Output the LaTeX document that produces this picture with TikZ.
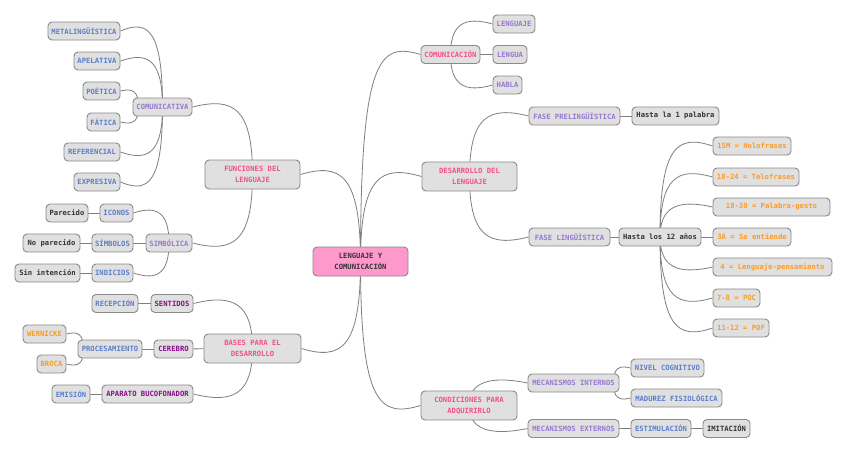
\documentclass[tikz,border=0pt]{standalone}
\usepackage{fontspec}
\newfontfamily\mono{DejaVu Sans Mono}
\usetikzlibrary{backgrounds,calc}
\definecolor{cpink}{HTML}{F2508C}
\definecolor{clav}{HTML}{9678D0}
\definecolor{cblue}{HTML}{5B7ECB}
\definecolor{cdpur}{HTML}{8A0A8A}
\definecolor{corange}{HTML}{FF9A1F}
\definecolor{cdark}{HTML}{333333}
\definecolor{cfill}{HTML}{E0E0E0}
\definecolor{cborder}{HTML}{8A8A8A}
\definecolor{cline}{HTML}{7F7F7F}
\definecolor{croot}{HTML}{FF99CC}
\newcommand\mmcurve[3]{\draw[lk] (#1) .. controls (#1 |- #2) and ($(#2)!0.67!(#1 |- #2)+(0,#3)$) .. (#2);}
\begin{document}
\begin{tikzpicture}[x=1pt,y=-1pt,
 box/.style={draw=cborder, fill=cfill, rounded corners=4pt, line width=0.9pt, minimum height=18pt, inner sep=0pt, font=\mono\bfseries\fontsize{7.2}{11}\selectfont, align=center},
 big/.style={box, minimum height=29pt},
 cP/.style={text=cpink}, cL/.style={text=clav}, cB/.style={text=cblue},
 cD/.style={text=cdpur}, cO/.style={text=corange}, cK/.style={text=cdark},
 lk/.style={draw=cline, line width=0.8pt}]
\useasboundingbox (0,0) rectangle (848,453);
% main
\node[big, fill=croot, cK, minimum width=95] (root) at (360.5,261.5) {LENGUAJE Y\\COMUNICACIÓN};
\node[big, cP, minimum width=95] (fun) at (252.5,174.5) {FUNCIONES DEL\\LENGUAJE};
\node[big, cP, minimum width=97] (bas) at (252.5,348.5) {BASES PARA EL\\DESARROLLO};
\node[box, cP, minimum width=59] (comu) at (450.5,54.5) {COMUNICACIÓN};
\node[big, cP, minimum width=95] (des) at (469.5,176.5) {DESARROLLO DEL\\LENGUAJE};
\node[big, cP, minimum width=96] (cond) at (469,405.5) {CONDICIONES PARA\\ADQUIRIRLO};
% funciones
\node[box, cL, minimum width=59] (comv) at (162.5,107) {COMUNICATIVA};
\node[box, cB, minimum width=72] (meta) at (84,31) {METALINGÜÍSTICA};
\node[box, cB, minimum width=46] (apel) at (97,61) {APELATIVA};
\node[box, cB, minimum width=37] (poe) at (101.5,91) {POÉTICA};
\node[box, cB, minimum width=33] (fat) at (103.5,122) {FÁTICA};
\node[box, cB, minimum width=56] (ref) at (92,152) {REFERENCIAL};
\node[box, cB, minimum width=46] (expr) at (97,182) {EXPRESIVA};
\node[box, cL, minimum width=46] (simb) at (169,243) {SIMBÓLICA};
\node[box, cB, minimum width=33] (icon) at (116.5,213) {ICONOS};
\node[box, cK, minimum width=42] (par) at (67,213) {Parecido};
\node[box, cB, minimum width=41] (simbs) at (112.5,243) {SÍMBOLOS};
\node[box, cK, minimum width=57] (nopar) at (51.5,243) {No parecido};
\node[box, cB, minimum width=41] (indic) at (112.5,273) {INDICIOS};
\node[box, cK, minimum width=65] (sinint) at (47.5,273) {Sin intención};
% bases
\node[box, cD, minimum width=42] (sent) at (172,303.5) {SENTIDOS};
\node[box, cB, minimum width=46] (recep) at (115,303.5) {RECEPCIÓN};
\node[box, cD, minimum width=39] (cere) at (173.5,349) {CEREBRO};
\node[box, cB, minimum width=64] (proc) at (110,349) {PROCESAMIENTO};
\node[box, cO, minimum width=43] (wern) at (44.5,334) {WERNICKE};
\node[box, cO, minimum width=29] (broca) at (51.5,364) {BROCA};
\node[box, cD, minimum width=91] (apar) at (147.5,394) {APARATO BUCOFONADOR};
\node[box, cB, minimum width=38] (emis) at (71,394) {EMISIÓN};
% comunicacion
\node[box, cL, minimum width=42] (lengj) at (514,24) {LENGUAJE};
\node[box, cL, minimum width=34] (lengua) at (510,54.5) {LENGUA};
\node[box, cL, minimum width=29] (habla) at (507.5,85) {HABLA};
% desarrollo
\node[box, cL, minimum width=91] (fpre) at (574.5,116) {FASE PRELINGÜÍSTICA};
\node[box, cK, minimum width=87] (h1) at (675.5,116) {Hasta la 1 palabra};
\node[box, cL, minimum width=81] (fling) at (569.5,237) {FASE LINGÜÍSTICA};
\node[box, cK, minimum width=82] (h12) at (660,237) {Hasta los 12 años};
\node[box, cO, minimum width=78] (e1) at (752,146) {15M = Holofrases};
\node[box, cO, minimum width=86] (e2) at (756,177) {18-24 = Telofrases};
\node[box, cO, minimum width=117] (e3) at (771.5,207) {18-30 = Palabra-gesto};
\node[box, cO, minimum width=78] (e4) at (752,237) {3A = Se entiende};
\node[box, cO, minimum width=119] (e5) at (772.5,267) {4 = Lenguaje-pensamiento};
\node[box, cO, minimum width=47] (e6) at (736.5,298) {7-8 = POC};
\node[box, cO, minimum width=56] (e7) at (741,328) {11-12 = POF};
% condiciones
\node[box, cL, minimum width=91] (mi) at (573.5,383) {MECANISMOS INTERNOS};
\node[box, cL, minimum width=91] (me) at (573.5,428.5) {MECANISMOS EXTERNOS};
\node[box, cB, minimum width=73] (niv) at (667.5,368) {NIVEL COGNITIVO};
\node[box, cB, minimum width=91] (mad) at (676.5,398) {MADUREZ FISIOLÓGICA};
\node[box, cB, minimum width=60] (estim) at (661,428.5) {ESTIMULACIÓN};
\node[box, cK, minimum width=47] (imit) at (726.5,428.5) {IMITACIÓN};
\coordinate (comvL) at ($(comv.west)+(6,0)$);
\coordinate (procL) at ($(proc.west)+(6,0)$);
\coordinate (miR) at ($(mi.east)+(-6,0)$);
\begin{pgfonlayer}{background}
\fill[white] (0,0) rectangle (848,453);
\mmcurve{root.center}{fun.east}{-12}
\mmcurve{root.center}{bas.east}{12}
\mmcurve{root.center}{comu.west}{-12}
\mmcurve{root.center}{des.west}{-12}
\mmcurve{root.center}{cond.west}{12}
\mmcurve{fun.center}{comv.east}{-10}
\mmcurve{fun.center}{simb.east}{10}
\mmcurve{comv.center}{meta.east}{-12}
\mmcurve{comv.center}{apel.east}{-10}
\mmcurve{comvL}{poe.east}{-3}
\mmcurve{comvL}{fat.east}{3}
\mmcurve{comv.center}{ref.east}{10}
\mmcurve{comv.center}{expr.east}{12}
\mmcurve{simb.center}{icon.east}{-8}
\mmcurve{simb.center}{indic.east}{8}
\draw[lk] (simb) -- (simbs);
\draw[lk] (icon) -- (par);
\draw[lk] (simbs) -- (nopar);
\draw[lk] (indic) -- (sinint);
\mmcurve{bas.center}{sent.east}{-10}
\mmcurve{bas.center}{apar.east}{10}
\draw[lk] (bas) -- (cere);
\draw[lk] (sent) -- (recep);
\draw[lk] (cere) -- (proc);
\draw[lk] (apar) -- (emis);
\mmcurve{procL}{wern.east}{-3}
\mmcurve{procL}{broca.east}{3}
\mmcurve{comu.center}{lengj.west}{-8}
\mmcurve{comu.center}{habla.west}{8}
\draw[lk] (comu) -- (lengua);
\mmcurve{des.center}{fpre.west}{-10}
\mmcurve{des.center}{fling.west}{10}
\draw[lk] (fpre) -- (h1);
\draw[lk] (fling) -- (h12);
\mmcurve{h12.center}{e1.west}{-12}
\mmcurve{h12.center}{e2.west}{-10}
\mmcurve{h12.center}{e3.west}{-8}
\draw[lk] (h12) -- (e4);
\mmcurve{h12.center}{e5.west}{8}
\mmcurve{h12.center}{e6.west}{10}
\mmcurve{h12.center}{e7.west}{12}
\mmcurve{cond.center}{mi.west}{-8}
\mmcurve{cond.center}{me.west}{8}
\mmcurve{miR}{niv.west}{-3}
\mmcurve{miR}{mad.west}{3}
\draw[lk] (me) -- (estim);
\draw[lk] (estim) -- (imit);
\end{pgfonlayer}
\end{tikzpicture}
\end{document}
